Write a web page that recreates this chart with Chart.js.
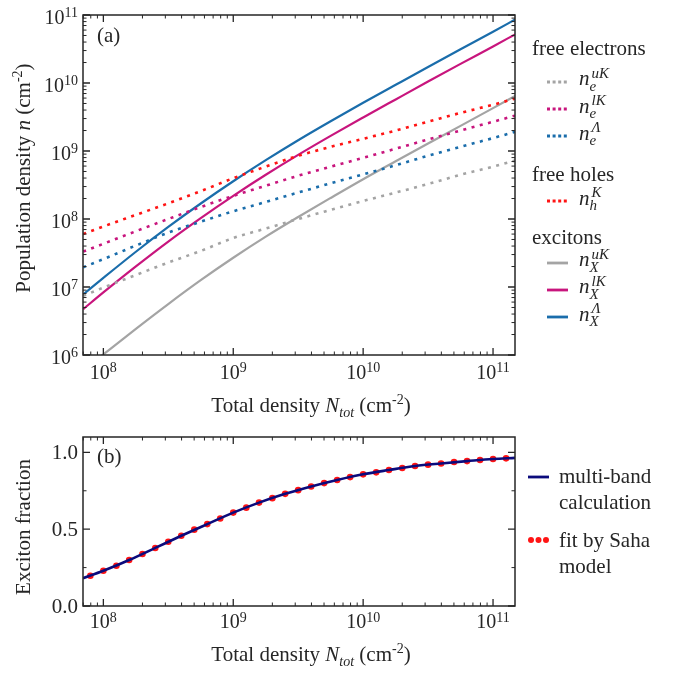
<!DOCTYPE html>
<html lang="en">
<head>
<meta charset="UTF-8">
<title>Population densities and exciton fraction</title>
<script src="https://cdn.jsdelivr.net/npm/chart.js"></script>
<style>
  body { margin: 0; background: #fff; }
  #fig {
    position: relative;
    width: 676px;
    height: 673px;
    font-family: 'Liberation Serif', 'Times New Roman', serif;
    font-size: 21px;
    color: #262626;
  }
  #fig canvas { position: absolute; left: 0; }
  .t { position: absolute; white-space: nowrap; line-height: 21px; }
  .t sup, .t sub { font-size: 14px; line-height: 0; }
  .ctr { transform: translateX(-50%); }
  .rot { transform: translate(-50%, -50%) rotate(-90deg); }
</style>
</head>
<body>
<div id="fig">
  <canvas id="densityChart" width="676" height="400" style="top:0"></canvas>
  <canvas id="fractionChart" width="676" height="273" style="top:400px"></canvas>
</div>

<script>
  // total density on the horizontal axis (cm^-2)
  const totalDensity = [7e7, 1e8, 1.78e8, 3.16e8, 5.62e8, 1e9, 1.78e9, 3.16e9, 5.62e9, 1e10, 1.78e10, 3.16e10, 5.62e10, 1e11, 1.48e11];

  // free electrons
  const electronsUK = [7.4e6, 9.8e6, 1.5e7, 2.29e7, 3.39e7, 5.25e7, 7.24e7, 1.0e8, 1.36e8, 1.84e8, 2.45e8, 3.27e8, 4.47e8, 5.89e8, 7.24e8];
  const electronsLK = [3.31e7, 4.32e7, 6.61e7, 1.0e8, 1.5e8, 2.19e8, 3.09e8, 4.32e8, 5.89e8, 7.94e8, 1.08e9, 1.48e9, 2.0e9, 2.69e9, 3.31e9];
  const electronsLambda = [1.95e7, 2.57e7, 4.07e7, 6.31e7, 9.12e7, 1.3e8, 1.78e8, 2.45e8, 3.35e8, 4.52e8, 6.17e8, 8.51e8, 1.15e9, 1.55e9, 1.91e9];

  // free holes
  const holesK = [6.03e7, 7.76e7, 1.15e8, 1.7e8, 2.57e8, 3.98e8, 5.89e8, 8.51e8, 1.15e9, 1.51e9, 2.0e9, 2.69e9, 3.63e9, 4.79e9, 5.89e9];

  // excitons
  const excitonsUK = [5.96e5, 1.02e6, 2.43e6, 5.62e6, 1.26e7, 2.69e7, 5.5e7, 1.07e8, 2.04e8, 3.85e8, 7.08e8, 1.29e9, 2.34e9, 4.27e9, 6.46e9];
  const excitonsLK = [4.73e6, 8.32e6, 2.01e7, 4.66e7, 1.03e8, 2.19e8, 4.47e8, 8.77e8, 1.67e9, 3.11e9, 5.73e9, 1.05e10, 1.91e10, 3.45e10, 5.19e10];
  const excitonsLambda = [7.76e6, 1.36e7, 3.3e7, 7.64e7, 1.69e8, 3.59e8, 7.33e8, 1.44e9, 2.74e9, 5.11e9, 9.4e9, 1.72e10, 3.13e10, 5.66e10, 8.59e10];

  // exciton fraction: Saha fit points
  const sahaDensity = [7.94e7, 1e8, 1.26e8, 1.58e8, 2e8, 2.51e8, 3.16e8, 3.98e8, 5.01e8, 6.31e8, 7.94e8,
                       1e9, 1.26e9, 1.58e9, 2e9, 2.51e9, 3.16e9, 3.98e9, 5.01e9, 6.31e9, 7.94e9,
                       1e10, 1.26e10, 1.58e10, 2e10, 2.51e10, 3.16e10, 3.98e10, 5.01e10, 6.31e10, 7.94e10,
                       1e11, 1.26e11];
  const sahaFraction = [0.197, 0.229, 0.262, 0.299, 0.338, 0.378, 0.418, 0.457, 0.497, 0.533, 0.570,
                        0.608, 0.640, 0.673, 0.702, 0.730, 0.754, 0.778, 0.800, 0.820, 0.839,
                        0.857, 0.870, 0.885, 0.898, 0.911, 0.920, 0.928, 0.937, 0.943, 0.950,
                        0.957, 0.961];

  // exciton fraction: multi-band calculation
  const calcDensity = [6.97e7, 1e8, 1.58e8, 2.51e8, 3.98e8, 6.31e8, 1e9, 1.58e9, 2.51e9, 3.98e9, 6.31e9,
                       1e10, 1.58e10, 2.51e10, 3.98e10, 6.31e10, 1e11, 1.476e11];
  const calcFraction = [0.181, 0.229, 0.299, 0.378, 0.457, 0.533, 0.608, 0.673, 0.730, 0.778, 0.820,
                        0.857, 0.885, 0.911, 0.928, 0.943, 0.957, 0.964];

  const GREY = '#a4a4a4', MAGENTA = '#c8157d', BLUE = '#1a6dab', RED = '#ff1414', NAVY = '#0b0b7c';
  const SERIF = '"Liberation Serif", "Times New Roman", serif';
  const INK = '#262626';

  function logMarks(min, max) {
    const marks = [];
    for (let e = Math.floor(Math.log10(min)); e <= Math.ceil(Math.log10(max)); e++) {
      for (let m = 1; m <= 9; m++) {
        const v = m * Math.pow(10, e);
        if (v >= min * 0.999 && v <= max * 1.001) marks.push({ v, major: m === 1, exp: e });
      }
    }
    return marks;
  }

  function marksFor(scale, spec) {
    if (scale.type === 'logarithmic') return logMarks(scale.min, scale.max);
    return spec.major.map(v => ({ v, major: true }))
      .concat(spec.minor.map(v => ({ v, major: false })));
  }

  // "10" with a raised exponent
  function drawPower(ctx, exp, x, base, supBase, align) {
    ctx.font = '20px ' + SERIF;
    const w1 = ctx.measureText('10').width;
    ctx.font = '14px ' + SERIF;
    const w2 = ctx.measureText(String(exp)).width;
    const x0 = align === 'center' ? x - (w1 + w2) / 2 : x - w1 - w2;
    ctx.textAlign = 'left';
    ctx.textBaseline = 'alphabetic';
    ctx.font = '20px ' + SERIF;
    ctx.fillText('10', x0, base);
    ctx.font = '14px ' + SERIF;
    ctx.fillText(String(exp), x0 + w1, supBase);
  }

  // boxed frame with inward ticks on all four sides, plus tick labels
  const frameTicks = {
    id: 'frameTicks',
    afterDraw(chart, args, opts) {
      const { ctx, chartArea: a } = chart;
      const xs = chart.scales.x, ys = chart.scales.y;
      const xm = marksFor(xs, opts.x || {});
      const ym = marksFor(ys, opts.y || {});
      ctx.save();
      ctx.strokeStyle = INK;
      ctx.fillStyle = INK;
      for (const major of [false, true]) {
        const len = major ? 7 : 3.5;
        ctx.lineWidth = major ? 1.3 : 1;
        ctx.beginPath();
        xm.filter(t => t.major === major).forEach(t => {
          const p = xs.getPixelForValue(t.v);
          ctx.moveTo(p, a.bottom); ctx.lineTo(p, a.bottom - len);
          ctx.moveTo(p, a.top); ctx.lineTo(p, a.top + len);
        });
        ym.filter(t => t.major === major).forEach(t => {
          const p = ys.getPixelForValue(t.v);
          ctx.moveTo(a.left, p); ctx.lineTo(a.left + len, p);
          ctx.moveTo(a.right, p); ctx.lineTo(a.right - len, p);
        });
        ctx.stroke();
      }
      ctx.lineWidth = 1.5;
      ctx.strokeRect(a.left, a.top, a.right - a.left, a.bottom - a.top);

      xm.filter(t => t.major).forEach(t => {
        drawPower(ctx, t.exp, xs.getPixelForValue(t.v), a.bottom + opts.xBase, a.bottom + opts.xSup, 'center');
      });
      if (ys.type === 'logarithmic') {
        ym.filter(t => t.major).forEach(t => {
          const p = ys.getPixelForValue(t.v);
          drawPower(ctx, t.exp, a.left - 5, p + 8.5, p + 2, 'right');
        });
      } else {
        ctx.font = '21px ' + SERIF;
        ctx.textAlign = 'right';
        ctx.textBaseline = 'alphabetic';
        opts.y.major.forEach(v => ctx.fillText(v.toFixed(1), a.left - 5, ys.getPixelForValue(v) + 7));
      }
      ctx.restore();
    }
  };

  function curve(values, color, dotted) {
    return {
      data: totalDensity.map((x, i) => ({ x, y: values[i] })),
      borderColor: color,
      borderWidth: dotted ? 2.6 : 2.2,
      borderDash: dotted ? [3, 5.5] : [],
      pointRadius: 0,
      cubicInterpolationMode: 'monotone',
      fill: false,
      clip: 0
    };
  }

  const quiet = { legend: { display: false }, tooltip: { enabled: false } };

  new Chart(document.getElementById('densityChart'), {
    type: 'line',
    data: {
      datasets: [
        curve(electronsUK, GREY, true),
        curve(electronsLK, MAGENTA, true),
        curve(electronsLambda, BLUE, true),
        curve(holesK, RED, true),
        curve(excitonsUK, GREY, false),
        curve(excitonsLK, MAGENTA, false),
        curve(excitonsLambda, BLUE, false)
      ]
    },
    options: {
      responsive: false,
      animation: false,
      devicePixelRatio: 1,
      layout: { padding: { left: 83, top: 15, right: 161, bottom: 45 } },
      plugins: { ...quiet, frameTicks: { xBase: 24, xSup: 17 } },
      scales: {
        x: { type: 'logarithmic', display: false, min: 6.97e7, max: 1.476e11 },
        y: { type: 'logarithmic', display: false, min: 1e6, max: 1e11 }
      }
    },
    plugins: [frameTicks]
  });

  new Chart(document.getElementById('fractionChart'), {
    type: 'line',
    data: {
      datasets: [
        {
          data: calcDensity.map((x, i) => ({ x, y: calcFraction[i] })),
          borderColor: NAVY,
          borderWidth: 2.6,
          pointRadius: 0,
          cubicInterpolationMode: 'monotone',
          clip: 0
        },
        {
          data: sahaDensity.map((x, i) => ({ x, y: sahaFraction[i] })),
          showLine: false,
          pointRadius: 3.3,
          pointBackgroundColor: RED,
          pointBorderWidth: 0
        }
      ]
    },
    options: {
      responsive: false,
      animation: false,
      devicePixelRatio: 1,
      layout: { padding: { left: 83, top: 37, right: 161, bottom: 67 } },
      plugins: {
        ...quiet,
        frameTicks: { xBase: 22, xSup: 15.5, y: { major: [0, 0.5, 1], minor: [0.25, 0.75] } }
      },
      scales: {
        x: { type: 'logarithmic', display: false, min: 6.97e7, max: 1.476e11 },
        y: { type: 'linear', display: false, min: 0, max: 1.1 }
      }
    },
    plugins: [frameTicks]
  });

  // ---- titles, panel tags and legends as HTML text ----
  const fig = document.getElementById('fig');

  // place text by its baseline (Liberation Serif ascent/descent 0.891/0.216 em)
  function addText(html, left, baseline, cls, size, italic) {
    const px = size || 21;
    const el = document.createElement('div');
    el.className = 't' + (cls ? ' ' + cls : '');
    el.innerHTML = html;
    el.style.left = left + 'px';
    el.style.fontSize = px + 'px';
    el.style.lineHeight = px + 'px';
    if (italic) el.style.fontStyle = 'italic';
    el.style.top = (baseline - px * 0.8375) + 'px';
    fig.appendChild(el);
    return el;
  }

  function addRotated(html, cx, cy) {
    const el = document.createElement('div');
    el.className = 't rot';
    el.innerHTML = html;
    el.style.left = cx + 'px';
    el.style.top = cy + 'px';
    fig.appendChild(el);
  }

  const SVGNS = 'http://www.w3.org/2000/svg';
  function keySvg(x, y, w) {
    const svg = document.createElementNS(SVGNS, 'svg');
    svg.setAttribute('width', w);
    svg.setAttribute('height', 8);
    svg.style.cssText = `position:absolute;left:${x}px;top:${y - 4}px`;
    fig.appendChild(svg);
    return svg;
  }

  function keyLine(x, y, color, dotted) {
    const svg = keySvg(x, y, 22);
    const ln = document.createElementNS(SVGNS, 'line');
    ln.setAttribute('x1', 0); ln.setAttribute('x2', 21);
    ln.setAttribute('y1', 4); ln.setAttribute('y2', 4);
    ln.setAttribute('stroke', color);
    ln.setAttribute('stroke-width', 2.8);
    if (dotted) ln.setAttribute('stroke-dasharray', '3 2.6');
    svg.appendChild(ln);
  }

  function keyDots(x, y, color) {
    const svg = keySvg(x, y, 22);
    [3, 10.5, 18].forEach(cx => {
      const c = document.createElementNS(SVGNS, 'circle');
      c.setAttribute('cx', cx); c.setAttribute('cy', 4); c.setAttribute('r', 3);
      c.setAttribute('fill', color);
      svg.appendChild(c);
    });
  }

  // italic n with stacked sub- and superscript
  function keySymbol(x, y, sub, sup) {
    addText('n', x, y + 4.5, null, 21, true);
    addText(sup, x + 12.5, y - 3, null, 15, true);
    addText(sub, x + 10.5, y + 10, null, 15, true);
  }

  addText('(a)', 97, 42.5);
  addText('(b)', 97, 464);

  addRotated('Population density <i>n</i> (cm<sup>-2</sup>)', 23, 178);
  addRotated('Exciton fraction', 23, 527);
  addText('Total density <i>N<sub>tot</sub></i> (cm<sup>-2</sup>)', 311, 413, 'ctr');
  addText('Total density <i>N<sub>tot</sub></i> (cm<sup>-2</sup>)', 311, 662, 'ctr');

  const keyX = 547, symX = 579;
  addText('free electrons', 532, 56);
  [[81.5, GREY, 'e', 'uK'], [109, MAGENTA, 'e', 'lK'], [136, BLUE, 'e', 'Λ']].forEach(([y, c, sub, sup]) => {
    keyLine(keyX, y, c, true); keySymbol(symX, y, sub, sup);
  });
  addText('free holes', 532, 182);
  keyLine(keyX, 201, RED, true); keySymbol(symX, 201, 'h', 'K');
  addText('excitons', 532, 245);
  [[262.5, GREY, 'X', 'uK'], [289.5, MAGENTA, 'X', 'lK'], [316.7, BLUE, 'X', 'Λ']].forEach(([y, c, sub, sup]) => {
    keyLine(keyX, y, c, false); keySymbol(symX, y, sub, sup);
  });

  keyLine(528, 477, NAVY, false);
  addText('multi-band', 559, 484);
  addText('calculation', 559, 510);
  keyDots(528, 540, RED);
  addText('fit by Saha', 559, 547.5);
  addText('model', 559, 573.5);
</script>
</body>
</html>
